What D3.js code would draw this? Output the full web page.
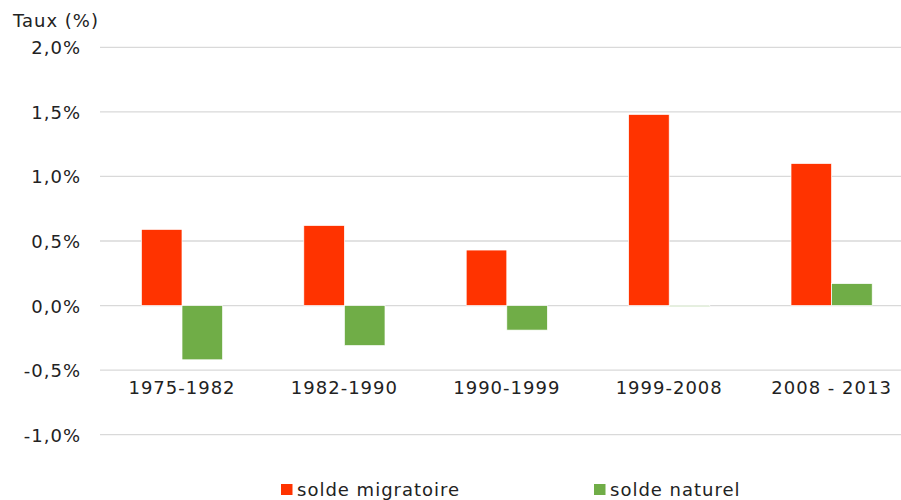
<!DOCTYPE html>
<html>
<head>
<meta charset="utf-8">
<script src="https://cdn.jsdelivr.net/npm/d3@7"></script>
<style>
  body { margin: 0; background: #fff; }
  text { font-family: "DejaVu Sans", Verdana, sans-serif; fill: #222; font-size: 18px; letter-spacing: 1px; }
</style>
</head>
<body>
<script>
// periods and values (% per year)
let periods = ['1975-1982', '1982-1990', '1990-1999', '1999-2008', '2008 - 2013']
let migratoire = [0.59, 0.62, 0.43, 1.48, 1.10]
let naturel = [-0.42, -0.31, -0.19, -0.003, 0.17]
let yTicks = [-1.0, -0.5, 0, 0.5, 1.0, 1.5, 2.0]
let seriesNames = ['solde migratoire', 'solde naturel']

SVG_WIDTH = 901
SVG_HEIGHT = 500
RED = '#ff3300'
GREEN = '#70ad47'

let svg = d3.select('body').append('svg')
            .attr('width', SVG_WIDTH)
            .attr('height', SVG_HEIGHT)

// plot area runs a little past the right edge of the picture
let x = d3.scaleBand().domain(periods).range([100.8, 912.8])
let y = d3.scaleLinear().domain([-1.0, 2.0]).range([434.7, 47.3])

let fmt = (v) => d3.format('.1f')(v).replace('.', ',').replace('−', '-') + '%'

// gridlines
svg.selectAll('.grid')
   .data(yTicks)
   .join('line')
   .attr('x1', 100).attr('x2', 901)
   .attr('y1', d => y(d)).attr('y2', d => y(d))
   .attr('stroke', '#d9d9d9')
   .attr('stroke-width', 1.3)

// y labels
svg.selectAll('.ylab')
   .data(yTicks)
   .join('text')
   .attr('x', 81)
   .attr('y', d => y(d) + 7)
   .attr('text-anchor', 'end')
   .text(d => fmt(d))

svg.append('text')
   .attr('x', 13).attr('y', 27)
   .text('Taux (%)')

let barW = 40.6
let rows = periods.map((p, i) => ({p: p, m: migratoire[i], n: naturel[i]}))

let g = svg.append('g')
g.selectAll('.mig')
 .data(rows)
 .join('rect')
 .attr('x', d => x(d.p) + x.bandwidth() / 2 - barW)
 .attr('width', barW)
 .attr('y', d => y(Math.max(0, d.m)))
 .attr('height', d => Math.abs(y(d.m) - y(0)))
 .attr('fill', RED)
 .attr('stroke', '#fff')
 .attr('stroke-width', 0.7)

g.selectAll('.nat')
 .data(rows)
 .join('rect')
 .attr('x', d => x(d.p) + x.bandwidth() / 2)
 .attr('width', barW)
 .attr('y', d => y(Math.max(0, d.n)))
 .attr('height', d => Math.max(1, Math.abs(y(d.n) - y(0))))
 .attr('fill', GREEN)
 .attr('stroke', '#fff')
 .attr('stroke-width', 0.7)

// x labels
svg.selectAll('.xlab')
   .data(periods)
   .join('text')
   .attr('x', d => x(d) + x.bandwidth() / 2)
   .attr('y', 394)
   .attr('text-anchor', 'middle')
   .text(d => d)

// legend
let legX = [281, 594]
let leg = svg.selectAll('.leg')
             .data(seriesNames)
             .join('g')
             .attr('transform', (d, i) => `translate(${legX[i]},484)`)
leg.append('rect')
   .attr('width', 11.5).attr('height', 11)
   .attr('fill', (d, i) => i == 0 ? RED : GREEN)
leg.append('text')
   .attr('x', 16).attr('y', 12)
   .text(d => d)
</script>
</body>
</html>
